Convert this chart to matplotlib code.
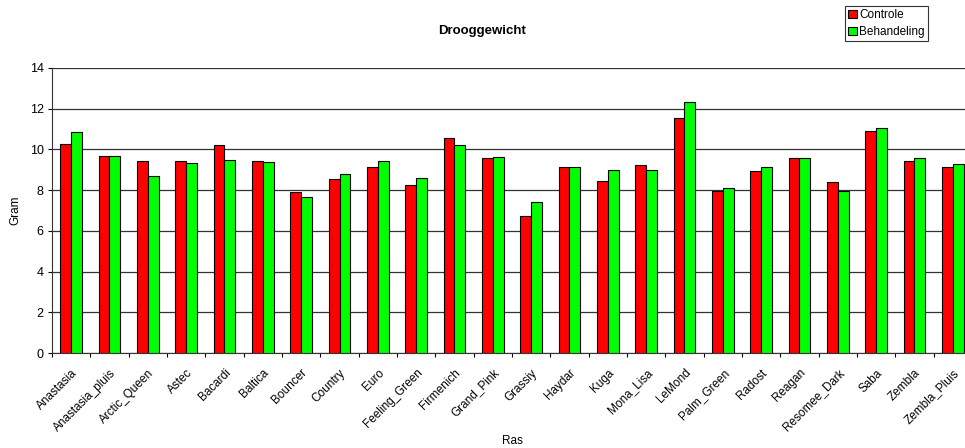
import numpy as np
import matplotlib.pyplot as plt

rassen = ['Anastasia', 'Anastasia_pluis', 'Arctic_Queen', 'Astec', 'Bacardi',
          'Baltica', 'Bouncer', 'Country', 'Euro', 'Feeling_Green', 'Firmenich',
          'Grand_Pink', 'Grassiy', 'Haydar', 'Kuga', 'Mona_Lisa', 'LeMond',
          'Palm_Green', 'Radost', 'Reagan', 'Resomee_Dark', 'Saba', 'Zembla',
          'Zembla_Pluis']
controle = [10.25, 9.67, 9.43, 9.43, 10.2, 9.43, 7.89, 8.53, 9.15, 8.27, 10.56,
            9.58, 6.75, 9.12, 8.43, 9.22, 11.56, 7.96, 8.94, 9.58, 8.42, 10.89,
            9.41, 9.12]
behandeling = [10.84, 9.67, 8.69, 9.32, 9.48, 9.37, 7.65, 8.79, 9.41, 8.58, 10.2,
               9.63, 7.43, 9.15, 9.0, 9.0, 12.31, 8.12, 9.12, 9.58, 7.96, 11.04,
               9.58, 9.27]

plt.rcParams['font.family'] = ['Liberation Sans', 'DejaVu Sans']

W, H = 965, 448
fig = plt.figure(figsize=(W / 100, H / 100), dpi=100)
# plot area runs a little past the right edge of the picture, as in the original
ax = fig.add_axes([52 / W, (H - 353) / H, (972 - 52) / W, (353 - 68) / H])

x = np.arange(len(rassen))
bw = 0.28
ax.bar(x - bw / 2, controle, bw, color='#ff0000', edgecolor='black', linewidth=0.8,
       label='Controle', zorder=3)
ax.bar(x + bw / 2, behandeling, bw, color='#00ff00', edgecolor='black', linewidth=0.8,
       label='Behandeling', zorder=3)

ax.set_xlim(-0.5, len(rassen) - 0.5)
ax.set_ylim(0, 14)
ax.set_yticks(range(0, 15, 2))
ax.yaxis.grid(True, color='#333333', linewidth=0.9, zorder=0)
ax.tick_params(axis='y', labelsize=9, length=3, width=0.8, pad=3)

ax.set_xticks(x)
ax.set_xticklabels(rassen, rotation=45, ha='right', rotation_mode='anchor', fontsize=8.5)
ax.tick_params(axis='x', which='major', length=0, pad=10)
ax.set_xticks(np.arange(-0.5, len(rassen)), minor=True)
ax.tick_params(axis='x', which='minor', length=3, width=0.8)

for s in ['top', 'right']:
    ax.spines[s].set_visible(False)
for s in ['left', 'bottom']:
    ax.spines[s].set_linewidth(0.8)
    ax.spines[s].set_color('#333333')

ax.set_ylabel('Gram', fontsize=8.5, labelpad=6)
ax.set_xlabel('Ras', fontsize=8.5, labelpad=1)

fig.text(482 / W, 1 - 31 / H, 'Drooggewicht', fontsize=9.5, fontweight='bold',
         ha='center', va='center')

leg = fig.legend(loc='upper left', bbox_to_anchor=(845 / W, 1 - 6 / H), fontsize=8.5,
                 frameon=True, fancybox=False, edgecolor='black', borderpad=0.25,
                 handlelength=0.75, handleheight=0.75, handletextpad=0.2,
                 labelspacing=0.45, borderaxespad=0)
leg.get_frame().set_linewidth(0.8)

fig.savefig('out.png', dpi=100)
